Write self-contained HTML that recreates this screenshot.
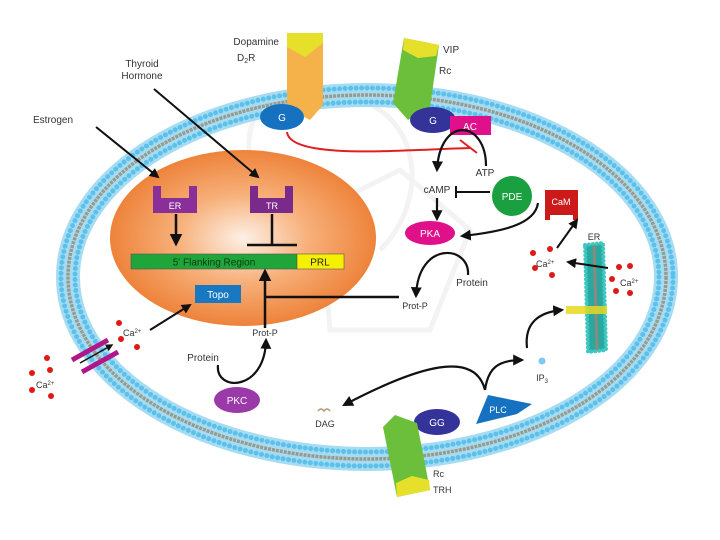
<!DOCTYPE html>
<html><head><meta charset="utf-8"><style>
html,body{margin:0;padding:0;background:#fff;}
svg{display:block;font-family:"Liberation Sans",sans-serif;}
</style></head><body>
<svg width="720" height="540" viewBox="0 0 720 540" xmlns="http://www.w3.org/2000/svg">
<defs>
<radialGradient id="nuc" cx="0.5" cy="0.5" r="0.55">
<stop offset="0" stop-color="#fdf0e6"/><stop offset="0.45" stop-color="#f7b07a"/><stop offset="1" stop-color="#ec7a2e"/>
</radialGradient>
<marker id="ah" viewBox="0 0 10 10" refX="8" refY="5" markerWidth="5" markerHeight="5" orient="auto"><path d="M0,0 L10,5 L0,10 z" fill="#111"/></marker>
</defs>
<!-- faint watermark -->
<g fill="none" stroke="#f3f3f3" stroke-width="5">
<path d="M250,160 C240,90 300,80 360,100 C420,120 430,200 380,250"/>
<path d="M320,210 L400,170 L470,230 L430,330 L330,330 Z"/>
</g>
<!-- membrane -->
<ellipse cx="367" cy="277" rx="299" ry="182" fill="none" stroke="#a6dcf3" stroke-width="24"/>
<ellipse cx="367" cy="277" rx="306" ry="189" fill="none" stroke="#5cc1ea" stroke-width="5" stroke-dasharray="0 5.5" stroke-linecap="round"/>
<ellipse cx="367" cy="277" rx="292" ry="175" fill="none" stroke="#5cc1ea" stroke-width="5" stroke-dasharray="0 5.5" stroke-linecap="round"/>
<ellipse cx="367" cy="277" rx="299" ry="182" fill="none" stroke="#9a9a8a" stroke-width="3.5" stroke-dasharray="3 1"/>
<!-- nucleus -->
<ellipse cx="243" cy="238" rx="133" ry="88" fill="url(#nuc)"/>
<!-- ER / TR -->
<path d="M153,186 h8 v12 h28 v-12 h8 v27 h-44 z" fill="#8a2e9a"/>
<text x="175" y="209" font-size="9" fill="#fff" text-anchor="middle">ER</text>
<path d="M250,186 h8 v12 h27 v-12 h8 v27 h-43 z" fill="#7a2a8a"/>
<text x="272" y="209" font-size="9" fill="#fff" text-anchor="middle">TR</text>
<line x1="176" y1="214" x2="176" y2="244" stroke="#111" stroke-width="2.5" marker-end="url(#ah)"/>
<line x1="272" y1="214" x2="272" y2="245" stroke="#111" stroke-width="2.5"/>
<line x1="247" y1="245" x2="297" y2="245" stroke="#111" stroke-width="2.5"/>
<rect x="131" y="254" width="166" height="15" fill="#1fa53a" stroke="#555" stroke-width="0.6"/>
<rect x="297" y="254" width="47" height="15" fill="#f5f000" stroke="#555" stroke-width="0.6"/>
<text x="214" y="265.5" font-size="10" fill="#0b3a12" text-anchor="middle">5' Flanking Region</text>
<text x="320" y="265.5" font-size="10" fill="#222" text-anchor="middle">PRL</text>
<rect x="195" y="285" width="46" height="18" fill="#1878c2"/>
<text x="218" y="298" font-size="10" fill="#fff" text-anchor="middle">Topo</text>
<!-- labels top-left -->
<text x="33" y="123" font-size="10" fill="#333">Estrogen</text>
<text x="142" y="67" font-size="10" fill="#333" text-anchor="middle">Thyroid</text>
<text x="142" y="79" font-size="10" fill="#333" text-anchor="middle">Hormone</text>
<line x1="96" y1="127" x2="158" y2="177" stroke="#111" stroke-width="2" marker-end="url(#ah)"/>
<line x1="154" y1="89" x2="258" y2="177" stroke="#111" stroke-width="2" marker-end="url(#ah)"/>
<!-- dopamine receptor -->
<path d="M287,33 h36 v72 l-13,15 l-23,-12 z" fill="#f5b24a"/>
<path d="M287,33 h36 v10 l-18,14 l-18,-10 z" fill="#e6e02a"/>
<ellipse cx="282" cy="117" rx="22" ry="13" fill="#1672c0"/>
<text x="282" y="121" font-size="10" fill="#fff" text-anchor="middle">G</text>
<text x="279" y="45" font-size="10" fill="#333" text-anchor="end">Dopamine</text>
<text x="237" y="61" font-size="10" fill="#333">D<tspan font-size="7" dy="2">2</tspan><tspan dy="-2">R</tspan></text>
<!-- VIP receptor -->
<path d="M404,38 L439,45 L430,107 L408,120 L393,103 Z" fill="#6cbf3a"/>
<path d="M404,38 L439,45 L436,56 L418,58 L403,50 Z" fill="#e6e02a"/>
<ellipse cx="433" cy="120" rx="23" ry="13" fill="#33339a"/>
<text x="433" y="124" font-size="10" fill="#fff" text-anchor="middle">G</text>
<text x="443" y="53" font-size="10" fill="#333">VIP</text>
<text x="439" y="74" font-size="10" fill="#333">Rc</text>
<rect x="450" y="116" width="41" height="19" fill="#e0108a"/>
<text x="470" y="130" font-size="10" fill="#fff" text-anchor="middle">AC</text>
<!-- red inhibition -->
<path d="M287,132 C290,160 400,150 470,148" fill="none" stroke="#e02020" stroke-width="2"/>
<line x1="460" y1="140" x2="477" y2="153" stroke="#e02020" stroke-width="2"/>
<!-- ATP -> cAMP -->
<path d="M486,166 C486,120 440,115 437,170" fill="none" stroke="#111" stroke-width="2.2" marker-end="url(#ah)"/>
<text x="485" y="176" font-size="10" fill="#333" text-anchor="middle">ATP</text>
<text x="437" y="193" font-size="10" fill="#333" text-anchor="middle">cAMP</text>
<line x1="456" y1="192" x2="490" y2="192" stroke="#111" stroke-width="2"/>
<line x1="456" y1="186" x2="456" y2="198" stroke="#111" stroke-width="2"/>
<circle cx="512" cy="196" r="20" fill="#1aa040"/>
<text x="512" y="200" font-size="10" fill="#fff" text-anchor="middle">PDE</text>
<line x1="437" y1="198" x2="437" y2="219" stroke="#111" stroke-width="2.2" marker-end="url(#ah)"/>
<ellipse cx="430" cy="233" rx="25" ry="12" fill="#e0108a"/>
<text x="430" y="237" font-size="10" fill="#fff" text-anchor="middle">PKA</text>
<!-- CaM -->
<path d="M545,190 h33 v30 h-5 v-5 h-23 v5 h-5 z" fill="#cc1a1a"/>
<text x="561" y="205" font-size="9" fill="#fff" text-anchor="middle">CaM</text>
<path d="M538,203 C535,225 500,232 462,236" fill="none" stroke="#111" stroke-width="2.2" marker-end="url(#ah)"/>
<!-- PKA -> Prot-P -->
<path d="M468,275 C470,245 418,240 416,296" fill="none" stroke="#111" stroke-width="2.2" marker-end="url(#ah)"/>
<text x="472" y="286" font-size="10" fill="#333" text-anchor="middle">Protein</text>
<text x="415" y="309" font-size="9" fill="#333" text-anchor="middle">Prot-P</text>
<line x1="265" y1="297" x2="399" y2="297" stroke="#111" stroke-width="2.5"/>
<line x1="265" y1="328" x2="265" y2="271" stroke="#111" stroke-width="2.5" marker-end="url(#ah)"/>
<!-- PKC -->
<text x="265" y="336" font-size="9" fill="#333" text-anchor="middle">Prot-P</text>
<text x="203" y="361" font-size="10" fill="#333" text-anchor="middle">Protein</text>
<path d="M218,365 C215,392 265,392 266,340" fill="none" stroke="#111" stroke-width="2.2" marker-end="url(#ah)"/>
<ellipse cx="237" cy="400" rx="23" ry="13" fill="#9a3aa8"/>
<text x="237" y="404" font-size="10" fill="#fff" text-anchor="middle">PKC</text>
<!-- Ca channel left -->
<line x1="72" y1="360" x2="108" y2="340" stroke="#b0158a" stroke-width="5"/>
<line x1="82" y1="372" x2="118" y2="352" stroke="#b0158a" stroke-width="5"/>
<line x1="80" y1="363" x2="112" y2="345" stroke="#111" stroke-width="1.5" marker-end="url(#ah)"/>
<g fill="#e01818">
<circle cx="119" cy="323" r="3"/><circle cx="121" cy="339" r="3"/><circle cx="137" cy="347" r="3"/>
<circle cx="47" cy="358" r="3"/><circle cx="32" cy="373" r="3"/><circle cx="50" cy="370" r="3"/><circle cx="32" cy="390" r="3"/><circle cx="51" cy="396" r="3"/>
<circle cx="533" cy="253" r="3"/><circle cx="535" cy="268" r="3"/><circle cx="552" cy="275" r="3"/><circle cx="550" cy="249" r="3"/>
<circle cx="619" cy="267" r="3"/><circle cx="630" cy="266" r="3"/><circle cx="612" cy="279" r="3"/><circle cx="616" cy="291" r="3"/><circle cx="630" cy="293" r="3"/>
</g>
<text x="123" y="336" font-size="9" fill="#333">Ca<tspan font-size="6" dy="-3">2+</tspan></text>
<text x="36" y="388" font-size="9" fill="#333">Ca<tspan font-size="6" dy="-3">2+</tspan></text>
<line x1="150" y1="330" x2="190" y2="305" stroke="#111" stroke-width="2" marker-end="url(#ah)"/>
<!-- ER organelle -->
<path d="M585,245 L603,243 L606,350 L588,352 Z" fill="#2aa8a0"/>
<path d="M585,245 L603,243 L606,350 L588,352 Z" fill="none" stroke="#3cc8c0" stroke-width="4" stroke-dasharray="0 4" stroke-linecap="round"/>
<line x1="594" y1="245" x2="597" y2="350" stroke="#8a8a80" stroke-width="3"/>
<rect x="566" y="306" width="41" height="8" fill="#e6d820" opacity="0.85"/>
<text x="594" y="240" font-size="9" fill="#333" text-anchor="middle">ER</text>
<text x="536" y="267" font-size="9" fill="#333">Ca<tspan font-size="6" dy="-3">2+</tspan></text>
<text x="620" y="286" font-size="9" fill="#333">Ca<tspan font-size="6" dy="-3">2+</tspan></text>
<line x1="608" y1="268" x2="568" y2="262" stroke="#111" stroke-width="2" marker-end="url(#ah)"/>
<line x1="557" y1="248" x2="577" y2="220" stroke="#111" stroke-width="2" marker-end="url(#ah)"/>
<!-- PLC / IP3 / DAG -->
<path d="M485,390 C488,368 498,360 522,360" fill="none" stroke="#111" stroke-width="2.2" marker-end="url(#ah)"/>
<path d="M527,348 C524,322 540,312 562,310" fill="none" stroke="#111" stroke-width="2.2" marker-end="url(#ah)"/>
<path d="M485,390 C475,350 420,365 344,405" fill="none" stroke="#111" stroke-width="2.2" marker-end="url(#ah)"/>
<circle cx="542" cy="361" r="3.5" fill="#7fc8ee"/>
<text x="542" y="381" font-size="9" fill="#333" text-anchor="middle">IP<tspan font-size="6" dy="2">3</tspan></text>
<text x="325" y="427" font-size="9" fill="#333" text-anchor="middle">DAG</text>
<path d="M318,411 q3,-4 6,0 q3,-4 6,0" fill="none" stroke="#b89a70" stroke-width="1.5"/>
<path d="M488,395 L532,404 L517,414 L476,424 Z" fill="#1672c0"/>
<text x="498" y="413" font-size="9" fill="#fff" text-anchor="middle">PLC</text>
<ellipse cx="437" cy="422" rx="23" ry="13" fill="#33339a"/>
<text x="437" y="426" font-size="10" fill="#fff" text-anchor="middle">GG</text>
<!-- TRH receptor -->
<path d="M395,415 L417,423 L430,490 L397,497 L383,427 Z" fill="#6cbf3a"/>
<path d="M396,483 L412,476 L429,480 L430,490 L397,497 Z" fill="#e6e02a"/>
<text x="433" y="477" font-size="9" fill="#333">Rc</text>
<text x="433" y="493" font-size="9" fill="#333">TRH</text>
</svg>
</body></html>
